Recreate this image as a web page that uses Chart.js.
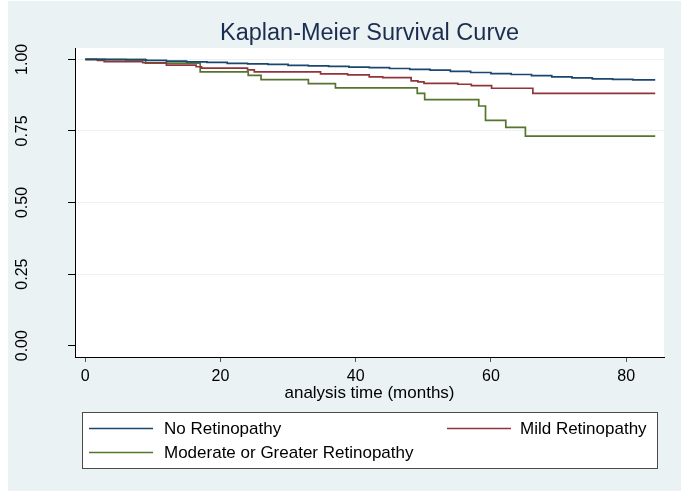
<!DOCTYPE html>
<html>
<head>
<meta charset="utf-8">
<script src="https://cdn.jsdelivr.net/npm/chart.js@4/dist/chart.umd.min.js"></script>
<style>
  html, body { margin: 0; padding: 0; background: #ffffff; }
  canvas { display: block; }
</style>
</head>
<body>
<canvas id="c" width="686" height="502"></canvas>
<script>
// ---- data ----
const titleText = "Kaplan-Meier Survival Curve";
const xAxisTitle = "analysis time (months)";
const seriesNames = ["No Retinopathy", "Mild Retinopathy", "Moderate or Greater Retinopathy"];
const xTicks = [0, 20, 40, 60, 80];
const yTicks = [0, 0.25, 0.5, 0.75, 1];
const yTickLabels = ["0.00", "0.25", "0.50", "0.75", "1.00"];

const noRetTime = [0, 3, 6, 9, 12, 15, 18, 21, 24, 27, 30, 33, 36, 39, 42, 45, 48, 51, 54, 57, 60, 63, 66, 69, 72, 75, 78, 81, 84.3];
const noRetSurv = [1.000, 0.999, 0.998, 0.996, 0.994, 0.991, 0.989, 0.986, 0.984, 0.982, 0.979, 0.977, 0.975, 0.973, 0.971, 0.968, 0.965, 0.962, 0.958, 0.954, 0.950, 0.947, 0.943, 0.939, 0.935, 0.932, 0.930, 0.928, 0.928];

const mildTime = [0, 1.8, 2.8, 8.5, 12, 16.4, 17.2, 24, 25, 34.8, 38.8, 42, 44, 48.2, 49.2, 50.1, 55.1, 57.1, 60.1, 66.2, 84.3];
const mildSurv = [1.000, 0.996, 0.992, 0.988, 0.980, 0.974, 0.969, 0.963, 0.956, 0.949, 0.946, 0.939, 0.936, 0.925, 0.921, 0.916, 0.913, 0.908, 0.899, 0.881, 0.881];

const modTime = [0, 8.9, 17, 24.1, 26, 33, 37, 49.1, 50.2, 58.2, 59.2, 62.2, 65.1, 84.3];
const modSurv = [1.000, 0.987, 0.956, 0.944, 0.929, 0.915, 0.900, 0.881, 0.859, 0.837, 0.787, 0.762, 0.732, 0.732];

const seriesColors = ["#1a476f", "#90353b", "#55752f"];

function pts(t, s) { return t.map((v, i) => ({ x: v, y: s[i] })); }

const BG = "#eaf2f3";
const FONT = "'Liberation Sans', Arial, sans-serif";

const decorPlugin = {
  id: 'decor',
  beforeDraw(chart) {
    const ctx = chart.ctx;
    const a = chart.chartArea;
    ctx.save();
    ctx.fillStyle = '#ffffff';
    ctx.fillRect(0, 0, chart.width, chart.height);
    ctx.fillStyle = BG;
    ctx.fillRect(8, 1, 673, 490);
    ctx.fillStyle = '#ffffff';
    ctx.fillRect(a.left, a.top, a.right - a.left, a.bottom - a.top);
    ctx.restore();
  },
  afterDraw(chart) {
    const ctx = chart.ctx;
    const a = chart.chartArea;
    ctx.save();
    // title
    ctx.fillStyle = '#1c2d52';
    ctx.font = "23.5px " + FONT;
    ctx.textAlign = 'center';
    ctx.textBaseline = 'alphabetic';
    ctx.fillText(titleText, (a.left + a.right) / 2, 40);
    // y tick labels (rotated)
    const ys = chart.scales.y;
    ctx.fillStyle = '#000';
    ctx.font = "16px " + FONT;
    ctx.textBaseline = 'middle';
    yTicks.forEach((v, i) => {
      const py = ys.getPixelForValue(v);
      ctx.save();
      ctx.translate(22.5, py);
      ctx.rotate(-Math.PI / 2);
      ctx.textAlign = 'center';
      ctx.fillText(yTickLabels[i], 0, 0);
      ctx.restore();
    });
    // legend box
    const lx = 82, ly = 412, lw = 575, lh = 56;
    ctx.fillStyle = '#ffffff';
    ctx.fillRect(lx, ly, lw, lh);
    ctx.strokeStyle = '#4a4a4a';
    ctx.lineWidth = 1;
    ctx.strokeRect(lx + 0.5, ly + 0.5, lw, lh);
    const items = [
      { x: 89, y: 428.5, tx: 164 },
      { x: 447, y: 428.5, tx: 520 },
      { x: 89, y: 452.5, tx: 164 }
    ];
    ctx.font = "17px " + FONT;
    ctx.textAlign = 'left';
    ctx.textBaseline = 'middle';
    chart.data.datasets.forEach((ds, i) => {
      const it = items[i];
      ctx.strokeStyle = ds.borderColor;
      ctx.lineWidth = 1.6;
      ctx.beginPath();
      ctx.moveTo(it.x, it.y);
      ctx.lineTo(it.x + 64, it.y);
      ctx.stroke();
      ctx.fillStyle = '#000';
      ctx.fillText(ds.label, it.tx, it.y + 1);
    });
    ctx.restore();
  }
};

const chart = new Chart(document.getElementById('c'), {
  type: 'line',
  data: {
    datasets: [
      { label: seriesNames[0], data: pts(noRetTime, noRetSurv), borderColor: seriesColors[0] },
      { label: seriesNames[1], data: pts(mildTime, mildSurv), borderColor: seriesColors[1] },
      { label: seriesNames[2], data: pts(modTime, modSurv), borderColor: seriesColors[2] }
    ].map(d => Object.assign(d, { stepped: true, borderWidth: 1.7, pointRadius: 0, fill: false, tension: 0 }))
  },
  options: {
    responsive: false,
    animation: false,
    devicePixelRatio: 1,
    layout: { padding: { top: 48, right: 22, bottom: 98, left: 0 } },
    plugins: { legend: { display: false }, title: { display: false }, tooltip: { enabled: false } },
    scales: {
      x: {
        type: 'linear',
        min: -1.52,
        max: 85.6,
        afterBuildTicks: s => { s.ticks = xTicks.map(v => ({ value: v })); },
        afterFit: s => { s.height = 47; },
        grid: { drawOnChartArea: false, drawTicks: true, tickLength: 5, tickColor: '#555' },
        border: { display: true, color: '#000', width: 1 },
        ticks: { color: '#000', font: { family: FONT, size: 16 }, padding: 5, maxRotation: 0 },
        title: { display: true, text: xAxisTitle, color: '#000', font: { family: FONT, size: 17 }, padding: { top: 0, bottom: 0 } }
      },
      y: {
        type: 'linear',
        min: -0.0395,
        max: 1.0395,
        afterBuildTicks: s => { s.ticks = yTicks.map(v => ({ value: v })); },
        afterFit: s => { s.width = 75; },
        grid: {
          color: c => (c.tick && c.tick.value === 0) ? 'rgba(0,0,0,0)' : BG,
          lineWidth: 1,
          drawTicks: true,
          tickLength: 7,
          tickColor: '#000'
        },
        border: { display: true, color: '#000', width: 1 },
        ticks: { display: false }
      }
    }
  },
  plugins: [decorPlugin]
});
</script>
</body>
</html>
